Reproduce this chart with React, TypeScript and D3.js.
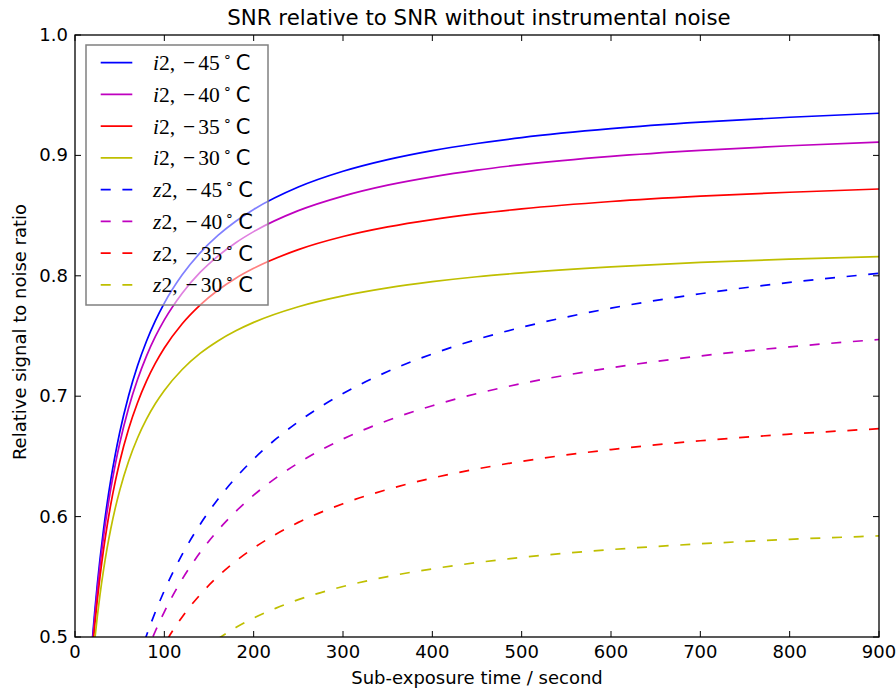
import React from "react";
import * as d3 from "d3";

// ---- data ----
const tI: number[] = [15, 18, 20, 22, 25, 28, 32, 36, 40, 45, 50, 60, 70, 80, 90, 100, 120, 140, 160, 180, 200, 250, 300, 350, 400, 450, 500, 600, 700, 800, 900];
const i2m45: number[] = [0.4511, 0.4837, 0.5028, 0.5203, 0.5439, 0.5649, 0.5896, 0.6112, 0.6302, 0.6512, 0.6697, 0.7004, 0.7252, 0.7456, 0.7627, 0.7773, 0.8008, 0.819, 0.8335, 0.8453, 0.8551, 0.8737, 0.8868, 0.8965, 0.904, 0.9099, 0.9148, 0.9222, 0.9276, 0.9317, 0.935];
const i2m40: number[] = [0.4484, 0.4803, 0.499, 0.5161, 0.5391, 0.5595, 0.5834, 0.6043, 0.6228, 0.643, 0.6607, 0.6902, 0.7138, 0.7333, 0.7496, 0.7634, 0.7856, 0.8028, 0.8164, 0.8275, 0.8367, 0.8541, 0.8662, 0.8753, 0.8822, 0.8878, 0.8923, 0.8992, 0.9042, 0.908, 0.911];
const i2m35: number[] = [0.4435, 0.4743, 0.4923, 0.5087, 0.5307, 0.5501, 0.5728, 0.5925, 0.6099, 0.6288, 0.6454, 0.6728, 0.6946, 0.7125, 0.7274, 0.74, 0.7602, 0.7757, 0.788, 0.798, 0.8062, 0.8217, 0.8326, 0.8406, 0.8467, 0.8516, 0.8556, 0.8617, 0.8661, 0.8694, 0.8721];
const i2m30: number[] = [0.4356, 0.4646, 0.4815, 0.4968, 0.5172, 0.5352, 0.556, 0.574, 0.5897, 0.6068, 0.6216, 0.646, 0.6653, 0.6809, 0.6939, 0.7048, 0.7222, 0.7355, 0.7459, 0.7543, 0.7613, 0.7743, 0.7833, 0.79, 0.7951, 0.7992, 0.8024, 0.8074, 0.8111, 0.8138, 0.816];

const tZ: number[] = [70, 80, 90, 100, 110, 120, 140, 160, 180, 200, 225, 250, 300, 350, 400, 450, 500, 600, 700, 800, 900];
const z2m45: number[] = [0.4789, 0.5012, 0.5209, 0.5385, 0.5543, 0.5686, 0.5934, 0.6144, 0.6323, 0.6478, 0.6645, 0.6788, 0.7022, 0.7205, 0.7351, 0.7472, 0.7572, 0.7731, 0.7851, 0.7945, 0.802];
const z2m40: number[] = [0.4664, 0.4869, 0.505, 0.5209, 0.5352, 0.548, 0.5701, 0.5886, 0.6043, 0.6178, 0.6322, 0.6445, 0.6645, 0.6798, 0.6921, 0.7022, 0.7105, 0.7236, 0.7334, 0.741, 0.7471];
const z2m35: number[] = [0.45, 0.4646, 0.4801, 0.4938, 0.5059, 0.5167, 0.5351, 0.5503, 0.5631, 0.5739, 0.5854, 0.5952, 0.6107, 0.6226, 0.632, 0.6396, 0.6459, 0.6557, 0.663, 0.6685, 0.673];
const tZ30: number[] = [140, 160, 180, 200, 225, 250, 300, 350, 400, 450, 500, 600, 700, 800, 900];
const z2m30: number[] = [0.487, 0.4984, 0.5078, 0.5157, 0.524, 0.531, 0.5419, 0.5502, 0.5566, 0.5618, 0.5661, 0.5726, 0.5774, 0.5811, 0.584];

const xTicks: number[] = [0, 100, 200, 300, 400, 500, 600, 700, 800, 900];
const yTicks: number[] = [0.5, 0.6, 0.7, 0.8, 0.9, 1.0];

const bands: string[] = ["i", "i", "i", "i", "z", "z", "z", "z"];
const temps: string[] = ["45", "40", "35", "30", "45", "40", "35", "30"];
const colors: string[] = ["#0000ff", "#bf00bf", "#ff0000", "#bfbf00", "#0000ff", "#bf00bf", "#ff0000", "#bfbf00"];
const dashed: boolean[] = [false, false, false, false, true, true, true, true];

const title = "SNR relative to SNR without instrumental noise";
const xLabel = "Sub-exposure time / second";
const yLabel = "Relative signal to noise ratio";

const seriesT: number[][] = [tI, tI, tI, tI, tZ, tZ, tZ, tZ30];
const seriesV: number[][] = [i2m45, i2m40, i2m35, i2m30, z2m45, z2m40, z2m35, z2m30];

export default function App() {
  const W = 896, H = 688;
  const left = 75, right = 879, top = 35, bottom = 637;
  const x = d3.scaleLinear().domain([0, 900]).range([left, right]);
  const y = d3.scaleLinear().domain([0.5, 1.0]).range([bottom, top]);
  const line = d3
    .line<[number, number]>()
    .x((d) => x(d[0]))
    .y((d) => y(d[1]))
    .curve(d3.curveMonotoneX);
  const font = "'DejaVu Sans', sans-serif";
  const serif = "'Liberation Serif', serif";
  const tickLen = 6;
  const legX = 86, legY = 45, legW = 182, legH = 260;
  const rowY0 = 62.7, rowDy = 31.75;

  return (
    <svg width={W} height={H} style={{ position: "absolute", left: 0, top: 0, background: "#fff" }} fontFamily={font}>
      <rect x={0} y={0} width={W} height={H} fill="#fff" />
      <defs>
        <clipPath id="plotclip">
          <rect x={left} y={top} width={right - left} height={bottom - top} />
        </clipPath>
      </defs>
      <g clipPath="url(#plotclip)">
        {seriesV.map((vals, i) => (
          <path
            key={i}
            d={line(vals.map((v, j) => [seriesT[i][j], v] as [number, number])) || ""}
            fill="none"
            stroke={colors[i]}
            strokeWidth={1.7}
            strokeDasharray={dashed[i] ? "10 11.7" : undefined}
          />
        ))}
      </g>
      {/* frame */}
      <rect x={left} y={top} width={right - left} height={bottom - top} fill="none" stroke="#000" strokeWidth={1.3} />
      {/* ticks */}
      {xTicks.map((t) => (
        <g key={"xt" + t}>
          <line x1={x(t)} x2={x(t)} y1={bottom} y2={bottom - tickLen} stroke="#000" strokeWidth={1} />
          <line x1={x(t)} x2={x(t)} y1={top} y2={top + tickLen} stroke="#000" strokeWidth={1} />
          <text x={x(t)} y={bottom + 21} textAnchor="middle" fontSize={18} fill="#000">
            {t}
          </text>
        </g>
      ))}
      {yTicks.map((t) => (
        <g key={"yt" + t}>
          <line x1={left} x2={left + tickLen} y1={y(t)} y2={y(t)} stroke="#000" strokeWidth={1} />
          <line x1={right} x2={right - tickLen} y1={y(t)} y2={y(t)} stroke="#000" strokeWidth={1} />
          <text x={left - 7} y={y(t) + 6} textAnchor="end" fontSize={18} fill="#000">
            {t.toFixed(1)}
          </text>
        </g>
      ))}
      <text x={(left + right) / 2 + 2} y={25} textAnchor="middle" fontSize={21.3} fill="#000">
        {title}
      </text>
      <text x={(left + right) / 2} y={684} textAnchor="middle" fontSize={18} fill="#000">
        {xLabel}
      </text>
      <text
        transform={`translate(26, ${(top + bottom) / 2 - 4}) rotate(-90)`}
        textAnchor="middle"
        fontSize={18}
        fill="#000"
      >
        {yLabel}
      </text>
      {/* legend */}
      <rect x={legX} y={legY} width={legW} height={legH} fill="#fff" fillOpacity={0.5} stroke="#808080" strokeWidth={1.5} />
      {bands.map((b, i) => {
        const ry = rowY0 + i * rowDy;
        return (
          <g key={"lg" + i}>
            <line
              x1={100.7}
              x2={132.3}
              y1={ry}
              y2={ry}
              stroke={colors[i]}
              strokeWidth={1.7}
              strokeDasharray={dashed[i] ? "10 11.7" : undefined}
            />
            <text x={153} y={ry + 7.5} fontSize={21.5} fill="#000">
              <tspan fontFamily={serif} fontStyle="italic">{b}</tspan>
              <tspan fontFamily={serif}>{"2,"}</tspan>
              <tspan fontFamily={serif} dx={8}>{"\u2212"}</tspan>
              <tspan fontFamily={serif} dx={3}>{temps[i]}</tspan>
              <tspan fontFamily={serif} fontSize={14} dy={-9} dx={3}>{"\u2218"}</tspan>
              <tspan fontFamily={font} fontSize={21} dy={9} dx={4}>C</tspan>
            </text>
          </g>
        );
      })}
    </svg>
  );
}
